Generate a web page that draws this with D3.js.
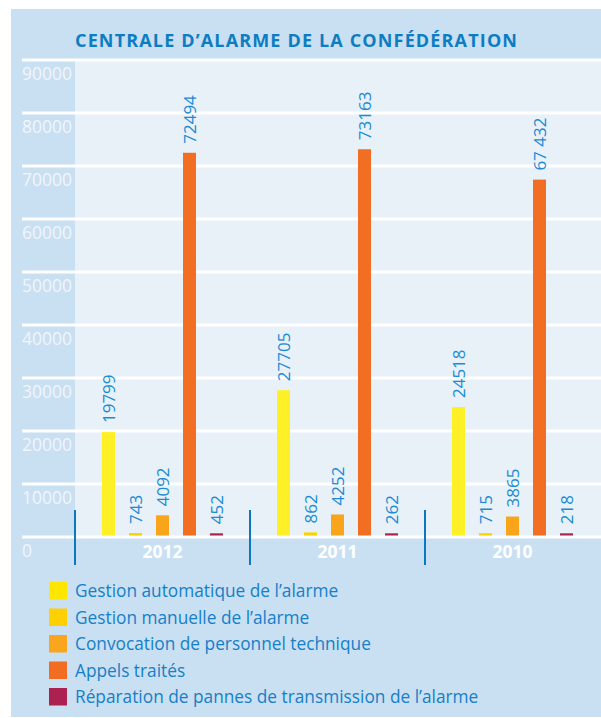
<!DOCTYPE html>
<html><head><meta charset="utf-8">
<script src="https://cdn.jsdelivr.net/npm/d3@7"></script>
<style>body{margin:0;background:#fff}svg{display:block}</style>
</head><body>
<svg id="c" width="601" height="718"></svg>
<script>
const title = "CENTRALE D’ALARME DE LA CONFÉDÉRATION";
const years = ["2012", "2011", "2010"];
const seriesNames = [
  "Gestion automatique de l’alarme",
  "Gestion manuelle de l’alarme",
  "Convocation de personnel technique",
  "Appels traités",
  "Réparation de pannes de transmission de l’alarme"
];
const gestionAuto = [19799, 27705, 24518];
const gestionManuelle = [743, 862, 715];
const convocation = [4092, 4252, 3865];
const appels = [72494, 73163, 67432];
const reparation = [452, 262, 218];
const valueLabels = [
  ["19799", "27705", "24518"],
  ["743", "862", "715"],
  ["4092", "4252", "3865"],
  ["72494", "73163", "67 432"],
  ["452", "262", "218"]
];
const yTicks = [0, 10000, 20000, 30000, 40000, 50000, 60000, 70000, 80000, 90000];
const colors = ["#fef026", "#fdd000", "#f8a51b", "#f26e22", "#ad2350"];
const legendColors = ["#ffe600", "#ffd000", "#f9a51e", "#f26d22", "#ad2150"];

const series = [gestionAuto, gestionManuelle, convocation, appels, reparation];
const svg = d3.select("#c");
const FONT = "'Open Sans', sans-serif";

// panel
svg.append("rect").attr("x", 11).attr("y", 9).attr("width", 590).attr("height", 708).attr("fill", "#c9dff2");

const y = d3.scaleLinear().domain([0, 90000]).range([537, 60]);
const x0 = d3.scaleBand().domain(years).range([75, 600]);
const x1 = d3.scaleBand().domain(d3.range(series.length)).range([20, 155]);
const barW = 13;
const base = y(0) - 1.5;

// light plot area
svg.append("rect").attr("x", 75).attr("y", y(90000)).attr("width", 526).attr("height", y(0) - y(90000)).attr("fill", "#e8f0f8");

// title
svg.append("text").attr("x", 75).attr("y", 47)
  .attr("font-family", FONT).attr("font-weight", 700).attr("font-size", 18)
  .attr("textLength", 442).attr("lengthAdjust", "spacing")
  .attr("fill", "#0c7dc2").text(title);

// gridlines
svg.append("g").selectAll("line").data(yTicks).join("line")
  .attr("x1", 22).attr("x2", 601).attr("y1", d => y(d)).attr("y2", d => y(d))
  .attr("stroke", "#fff").attr("stroke-width", 3);

// y labels
svg.append("g").selectAll("text").data(yTicks).join("text")
  .attr("x", 22).attr("y", d => y(d) + 20)
  .attr("font-family", FONT).attr("font-size", 17.5).attr("fill", "#f1f6fb")
  .text(d => d3.format("d")(d));

// bars
const groups = svg.append("g").selectAll("g").data(years).join("g")
  .attr("transform", d => `translate(${x0(d)},0)`);

series.forEach((vals, si) => {
  const top = gi => Math.min(y(vals[gi]), base - 2.2);
  groups.append("rect")
    .attr("x", x1(si) + (x1.bandwidth() - barW) / 2)
    .attr("width", barW)
    .attr("y", (d, gi) => top(gi))
    .attr("height", (d, gi) => base - top(gi))
    .attr("fill", colors[si]);
  groups.append("text")
    .attr("transform", (d, gi) => `translate(${x1(si) + x1.bandwidth() / 2},${top(gi) - 9}) rotate(-90)`)
    .attr("dy", "0.36em")
    .attr("font-family", FONT).attr("font-size", 17).attr("fill", "#1b8bd3")
    .text((d, gi) => valueLabels[si][gi]);
});

// category separators
svg.append("g").selectAll("line").data(years).join("line")
  .attr("x1", d => x0(d)).attr("x2", d => x0(d)).attr("y1", 510).attr("y2", 565)
  .attr("stroke", "#0a77bf").attr("stroke-width", 2);

// category labels
svg.append("g").selectAll("text").data(years).join("text")
  .attr("x", d => x0(d) + x0.bandwidth() / 2).attr("y", 558).attr("text-anchor", "middle")
  .attr("font-family", FONT).attr("font-weight", 700).attr("font-size", 17.5).attr("fill", "#fff")
  .text(d => d);

// legend
const lg = svg.append("g").selectAll("g").data(seriesNames).join("g")
  .attr("transform", (d, i) => `translate(49,${582 + i * 26.5})`);
lg.append("rect").attr("width", 18).attr("height", 17.5).attr("fill", (d, i) => legendColors[i]);
lg.append("text").attr("x", 26).attr("y", 15)
  .attr("font-family", FONT).attr("font-size", 17.3).attr("fill", "#1580c8")
  .text(d => d);
</script>
</body></html>
